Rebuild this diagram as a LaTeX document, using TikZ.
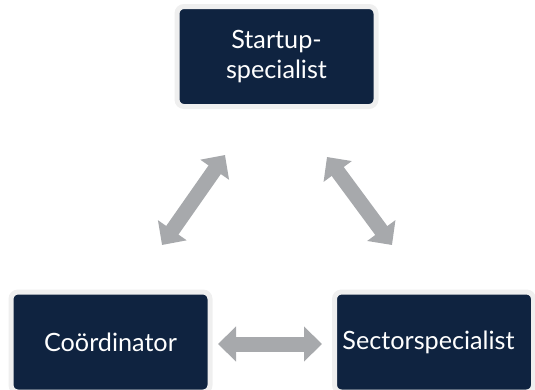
\documentclass[tikz,border=0pt]{standalone}
\usepackage{fontspec}
\setmainfont{Lato}
\usetikzlibrary{arrows.meta}
\definecolor{boxnavy}{HTML}{0F2340}
\definecolor{ringgrey}{HTML}{EFEFEF}
\definecolor{arrowgrey}{HTML}{A7A9AC}
\begin{document}
\begin{tikzpicture}[x=1pt,y=-1pt,
  role/.style={draw=ringgrey, line width=5pt, fill=boxnavy, rounded corners=7pt,
    minimum width=199pt, minimum height=100pt, inner sep=0pt, text=white,
    font=\fontsize{25.2}{29.5}\selectfont, align=center},
  link/.style={draw=arrowgrey, line width=15pt,
    {Triangle[length=18pt,width=34pt]}-{Triangle[length=18pt,width=34pt]}}]
\useasboundingbox (0,0) rectangle (535,389);
\node[role] (start) at (276.5,56.5) {Startup-\\specialist};
\node[role] (coord) at (110.5,342) {Coördinator};
\node[role] (sector) at (434,342) {Sectorspecialist\hspace*{11pt}};
\coordinate (l1) at (162,245);
\coordinate (l2) at (225,155);
\coordinate (r1) at (327,157);
\coordinate (r2) at (392,245);
\coordinate (h1) at (218,344);
\coordinate (h2) at (322,344);
\draw[link] (l1) -- (l2);
\draw[link] (r1) -- (r2);
\draw[link] (h1) -- (h2);
\end{tikzpicture}
\end{document}
